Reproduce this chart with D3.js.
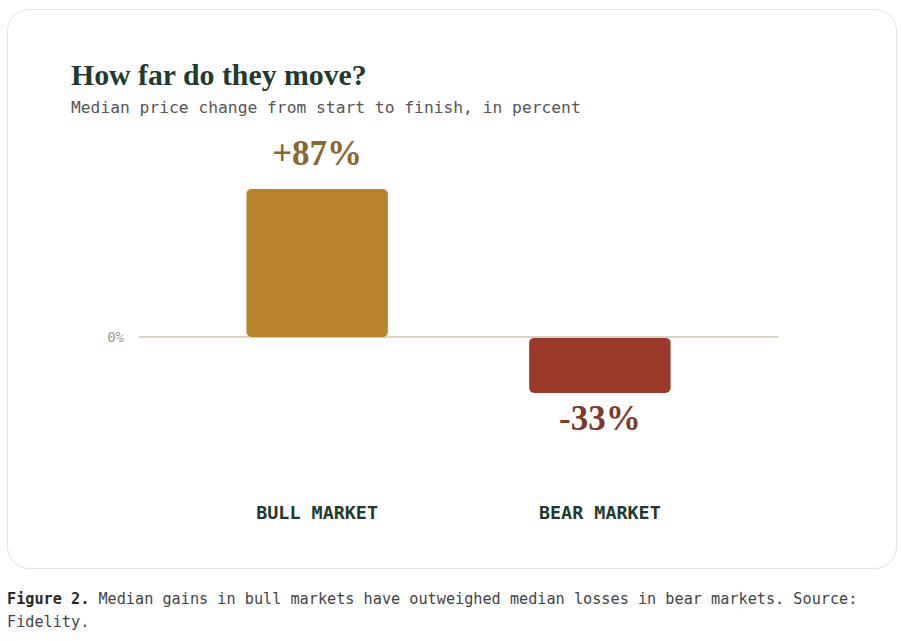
<!DOCTYPE html>
<html>
<head>
<meta charset="utf-8">
<script src="https://cdn.jsdelivr.net/npm/d3@7"></script>
<style>
  body { margin: 0; background: #fff; }
  svg { display: block; }
</style>
</head>
<body>
<svg width="901" height="641"></svg>
<script>
const categories = ['BULL MARKET', 'BEAR MARKET'];
const values = [87, -33];
const valueLabels = ['+87%', '-33%'];
const barColors = ['#b8832a', '#9b3a2a'];
const labelColors = ['#8a6632', '#7b3b2b'];

const svg = d3.select('svg');
const width = +svg.attr('width');
const height = +svg.attr('height');

const serif = '"Liberation Serif", "DejaVu Serif", serif';
const mono = '"DejaVu Sans Mono", "Liberation Mono", monospace';

// card
svg.append('rect')
    .attr('x', 7.5)
    .attr('y', 9.5)
    .attr('width', 889)
    .attr('height', 559)
    .attr('rx', 22)
    .attr('fill', '#fff')
    .attr('stroke', '#e6e3de');

svg.append('text')
    .attr('x', 71)
    .attr('y', 85)
    .attr('font-family', serif)
    .attr('font-weight', 'bold')
    .attr('font-size', 29.8)
    .attr('fill', '#1f3a2e')
    .text('How far do they move?');

svg.append('text')
    .attr('x', 71)
    .attr('y', 113)
    .attr('font-family', mono)
    .attr('font-size', 16.3)
    .attr('fill', '#555')
    .text('Median price change from start to finish, in percent');

const xScale = d3.scaleBand()
    .domain(categories)
    .range([139, 778])
    .paddingInner(0.5)
    .paddingOuter(0.38);

const yScale = d3.scaleLinear()
    .domain([-33, 87])
    .range([393, 189]);

const data = categories.map((c, i) => ({
    cat: c, value: values[i], label: valueLabels[i],
    color: barColors[i], labelColor: labelColors[i]
}));

// zero line
svg.append('line')
    .attr('x1', 139)
    .attr('x2', 778)
    .attr('y1', yScale(0))
    .attr('y2', yScale(0))
    .attr('stroke', '#d9d3c8')
    .attr('stroke-width', 2);

svg.append('text')
    .attr('x', 124)
    .attr('y', yScale(0) + 5)
    .attr('text-anchor', 'end')
    .attr('font-family', mono)
    .attr('font-size', 14)
    .attr('fill', '#9a9a9a')
    .text('0%');

svg.selectAll('.bar')
    .data(data)
    .enter()
    .append('rect')
    .attr('class', 'bar')
    .attr('x', d => xScale(d.cat))
    .attr('y', d => yScale(Math.max(0, d.value)) + (d.value < 0 ? 1 : 0))
    .attr('width', xScale.bandwidth())
    .attr('height', d => Math.abs(yScale(d.value) - yScale(0)) - (d.value < 0 ? 1 : 0))
    .attr('rx', 5)
    .attr('fill', d => d.color);

svg.selectAll('.value-label')
    .data(data)
    .enter()
    .append('text')
    .attr('class', 'value-label')
    .attr('x', d => xScale(d.cat) + xScale.bandwidth() / 2)
    .attr('y', d => d.value >= 0 ? yScale(d.value) - 24 : yScale(d.value) + 37)
    .attr('text-anchor', 'middle')
    .attr('font-family', serif)
    .attr('font-weight', 'bold')
    .attr('font-size', 35)
    .attr('fill', d => d.labelColor)
    .text(d => d.label);

svg.selectAll('.cat-label')
    .data(data)
    .enter()
    .append('text')
    .attr('class', 'cat-label')
    .attr('x', d => xScale(d.cat) + xScale.bandwidth() / 2)
    .attr('y', 519)
    .attr('text-anchor', 'middle')
    .attr('font-family', mono)
    .attr('font-weight', 'bold')
    .attr('font-size', 18.4)
    .attr('fill', '#1f3a2e')
    .text(d => d.cat);

// caption
const cap = svg.append('text')
    .attr('font-family', mono)
    .attr('font-size', 15.2)
    .attr('fill', '#444');
const line1 = cap.append('tspan').attr('x', 7).attr('y', 604);
line1.append('tspan').attr('font-weight', 'bold').attr('fill', '#2a2a2a').text('Figure 2.');
line1.append('tspan').text(' Median gains in bull markets have outweighed median losses in bear markets. Source:');
cap.append('tspan').attr('x', 7).attr('y', 627).text('Fidelity.');
</script>
</body>
</html>
